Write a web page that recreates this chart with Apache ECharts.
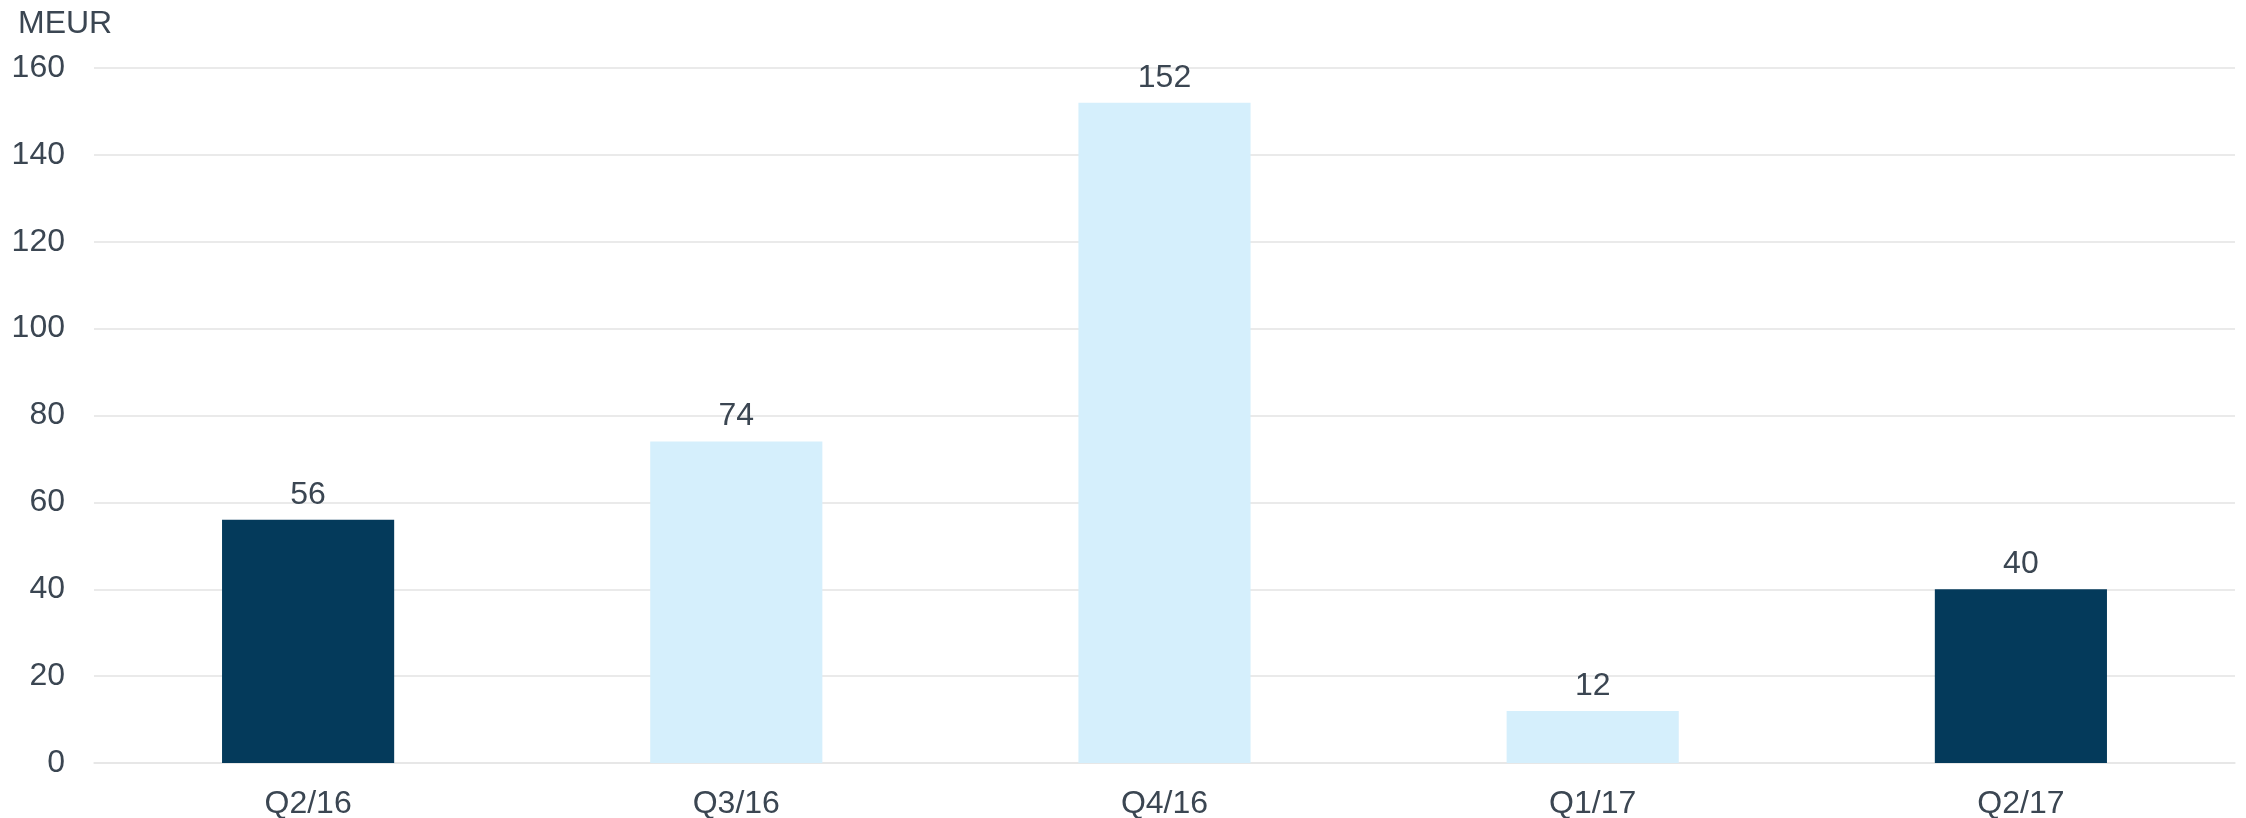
<!DOCTYPE html>
<html>
<head>
<meta charset="utf-8">
<script src="https://cdn.jsdelivr.net/npm/echarts@6/dist/echarts.min.js"></script>
<style>
  html, body { margin: 0; padding: 0; background: #fff; }
  #chart { width: 2246px; height: 818px; }
</style>
</head>
<body>
<div id="chart"></div>
<script>
var categories = ["Q2/16", "Q3/16", "Q4/16", "Q1/17", "Q2/17"];
var values = [56, 74, 152, 12, 40];
// dark = same quarter comparisons, light = the quarters in between
var barColors = ["#043a5b", "#d5effc", "#d5effc", "#d5effc", "#043a5b"];
var yTicks = [0, 20, 40, 60, 80, 100, 120, 140, 160];

var textColor = "#3b4652";
var font = "Liberation Sans, Arial, sans-serif";
var fs = 32;

var chart = echarts.init(document.getElementById("chart"));

chart.setOption({
  animation: false,
  title: {
    text: "MEUR",
    left: 13,
    top: 3,
    textStyle: { fontSize: fs, fontWeight: "normal", color: textColor, fontFamily: font }
  },
  grid: {
    left: 94,
    right: 11,
    top: 68,
    bottom: 55,
    containLabel: false,
    outerBoundsMode: "none"
  },
  xAxis: {
    type: "category",
    data: categories,
    axisLine: { show: true, lineStyle: { color: "#e6e6e6", width: 1.5 } },
    axisTick: { show: false },
    axisLabel: { margin: 25, fontSize: fs, color: textColor, fontFamily: font }
  },
  yAxis: {
    type: "value",
    min: yTicks[0],
    max: yTicks[yTicks.length - 1],
    interval: 20,
    axisLine: { show: false },
    axisTick: { show: false },
    splitLine: { lineStyle: { color: "#e3e3e3", width: 1.5 } },
    axisLabel: { margin: 29, fontSize: fs, color: textColor, fontFamily: font }
  },
  series: [
    {
      type: "bar",
      barWidth: "40.2%",
      data: values.map(function (v, i) {
        return { value: v, itemStyle: { color: barColors[i] } };
      }),
      label: {
        show: true,
        position: "top",
        distance: 9,
        fontSize: fs,
        color: textColor,
        fontFamily: font
      }
    }
  ]
});
</script>
</body>
</html>
